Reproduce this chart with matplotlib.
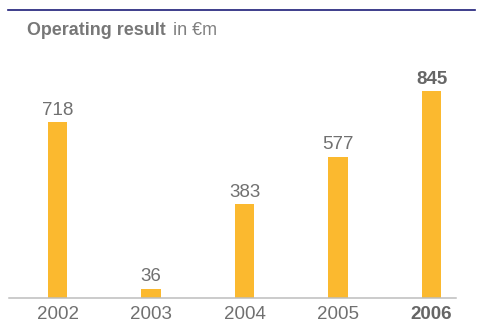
import matplotlib
matplotlib.use("Agg")
import matplotlib.pyplot as plt
from matplotlib.lines import Line2D

plt.rcParams['font.family'] = ['Liberation Sans', 'DejaVu Sans']

years = ["2002", "2003", "2004", "2005", "2006"]
values = [718, 36, 383, 577, 845]
highlight = [False, False, False, False, True]

W, H = 483, 323
fig = plt.figure(figsize=(W / 100, H / 100), dpi=100)

# axes in pixel terms
left_px, right_px = 9, 456
base_px, top_px = 297.5, 50
ax = fig.add_axes([left_px / W, (H - base_px) / H,
                   (right_px - left_px) / W, (base_px - top_px) / H])

bar_color = "#FBB92F"
text_color = "#707070"
x = list(range(len(years)))
ax.bar(x, values, width=0.205, color=bar_color, zorder=2)

ax.set_xlim(-0.519, 4.262)
ax.set_ylim(0, 1015)

for s in ["top", "right", "left"]:
    ax.spines[s].set_visible(False)
ax.spines["bottom"].set_color("#bdbdbd")
ax.spines["bottom"].set_linewidth(1.1)
ax.set_yticks([])
ax.set_xticks(x)
ax.set_xticklabels(years)
ax.tick_params(axis="x", length=0, pad=6, labelsize=13.5, labelcolor=text_color)
for lbl, hl in zip(ax.get_xticklabels(), highlight):
    if hl:
        lbl.set_fontweight("bold")
        lbl.set_color("#666666")

for xi, v, hl in zip(x, values, highlight):
    ax.annotate(str(v), (xi, v), xytext=(0, 5.3), textcoords="offset points",
                ha="center", va="baseline", fontsize=13.5,
                fontweight="bold" if hl else "normal",
                color="#666666" if hl else text_color)

# top rule
fig.add_artist(Line2D([8 / W, 475 / W], [1 - 10 / H, 1 - 10 / H],
                      color="#1c1c78", linewidth=1.2))

# heading
fig.text(27 / W, 1 - 35 / H, "Operating result", fontsize=12.9, fontweight="bold",
         color="#777777", ha="left", va="baseline")
fig.text(173 / W, 1 - 35 / H, "in €m", fontsize=12.9, color="#808080",
         ha="left", va="baseline")

fig.savefig("out.png", dpi=100)
